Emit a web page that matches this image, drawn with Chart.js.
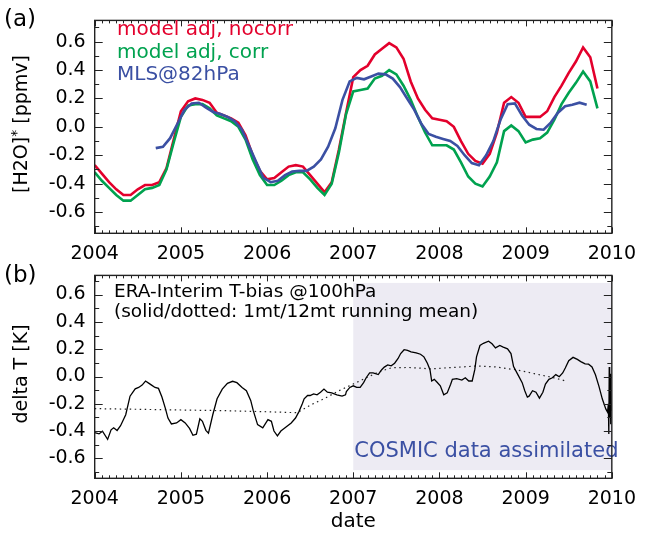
<!DOCTYPE html>
<html>
<head>
<meta charset="utf-8">
<script src="https://cdn.jsdelivr.net/npm/chart.js@4/dist/chart.umd.min.js"></script>
<style>
  body { margin: 0; background: #fff; }
  #wrap { position: relative; width: 645px; height: 535px; }
  canvas { position: absolute; left: 0; }
  #panelA { top: 0; }
  #panelB { top: 255px; }
</style>
</head>
<body>
<div id="wrap">
  <canvas id="panelA" width="645" height="268"></canvas>
  <canvas id="panelB" width="645" height="280"></canvas>
</div>
<script>
const FONT = '"DejaVu Sans", sans-serif'
const RED = '#E3002C'
const GREEN = '#00A24F'
const BLUE = '#3B50A3'

// (a) monthly values, first month is January 2004
const nocorr = [
  -0.27, -0.33, -0.39, -0.44, -0.48, -0.48, -0.44, -0.41, -0.41, -0.39,
  -0.29, -0.09, 0.11, 0.18, 0.20, 0.19, 0.17, 0.10, 0.08, 0.06,
  0.03, -0.06, -0.20, -0.31, -0.37, -0.36, -0.32, -0.28, -0.27, -0.28,
  -0.34, -0.40, -0.46, -0.39, -0.16, 0.10, 0.35, 0.40, 0.43, 0.51,
  0.55, 0.59, 0.56, 0.48, 0.32, 0.20, 0.12, 0.06, 0.05, 0.04,
  0.00, -0.10, -0.19, -0.24, -0.26, -0.19, -0.04, 0.17, 0.21, 0.17,
  0.07, 0.07, 0.07, 0.11, 0.21, 0.29, 0.38, 0.46, 0.56, 0.49,
  0.27
]
const corr = [
  -0.32, -0.38, -0.43, -0.48, -0.52, -0.52, -0.48, -0.44, -0.43, -0.41,
  -0.30, -0.11, 0.07, 0.15, 0.16, 0.16, 0.13, 0.08, 0.06, 0.04,
  0.00, -0.09, -0.23, -0.34, -0.41, -0.41, -0.38, -0.34, -0.32, -0.32,
  -0.37, -0.43, -0.48, -0.40, -0.18, 0.09, 0.25, 0.26, 0.27, 0.34,
  0.36, 0.40, 0.37, 0.29, 0.19, 0.07, -0.04, -0.13, -0.13, -0.13,
  -0.16, -0.25, -0.35, -0.40, -0.42, -0.35, -0.25, -0.03, 0.01, -0.03,
  -0.11, -0.09, -0.08, -0.04, 0.05, 0.16, 0.24, 0.31, 0.39, 0.32,
  0.13
]
// MLS@82hPa, mid-month values from September 2004
const mlsFirstMonth = 8.5
const mls = [
  -0.15, -0.14, -0.08, 0.02, 0.12, 0.165, 0.17, 0.135, 0.105, 0.09,
  0.07, 0.04, -0.02, -0.135, -0.25, -0.36, -0.39, -0.38, -0.34, -0.315,
  -0.31, -0.31, -0.28, -0.23, -0.14, -0.01, 0.19, 0.32, 0.345, 0.335,
  0.355, 0.375, 0.37, 0.34, 0.28, 0.2, 0.12, 0.02, -0.05, -0.07,
  -0.085, -0.1, -0.135, -0.2, -0.255, -0.27, -0.2, -0.1, 0.05, 0.16,
  0.165, 0.08, 0.015, -0.015, -0.02, 0.03, 0.1, 0.145, 0.155, 0.17,
  0.155
]

// (b) ERA-Interim T-bias at 100hPa, 1 month running mean
const biasYears = [
  2004.00, 2004.05, 2004.09, 2004.15, 2004.19, 2004.22, 2004.26, 2004.30, 2004.36, 2004.41,
  2004.47, 2004.51, 2004.55, 2004.59, 2004.63, 2004.66, 2004.70, 2004.74, 2004.78, 2004.82,
  2004.85, 2004.89, 2004.95, 2005.00, 2005.05, 2005.10, 2005.14, 2005.18, 2005.22, 2005.25,
  2005.29, 2005.32, 2005.37, 2005.42, 2005.48, 2005.54, 2005.60, 2005.65, 2005.71, 2005.76,
  2005.81, 2005.84, 2005.89, 2005.95, 2006.01, 2006.05, 2006.08, 2006.12, 2006.16, 2006.22,
  2006.28, 2006.33, 2006.37, 2006.41, 2006.43, 2006.47, 2006.50, 2006.54, 2006.58, 2006.62,
  2006.66, 2006.70, 2006.75, 2006.81, 2006.87, 2006.91, 2006.92, 2006.96, 2007.00, 2007.04,
  2007.08, 2007.12, 2007.15, 2007.19, 2007.23, 2007.29, 2007.33, 2007.36, 2007.40, 2007.44,
  2007.48, 2007.52, 2007.55, 2007.59, 2007.63, 2007.67, 2007.73, 2007.78, 2007.82, 2007.86,
  2007.89, 2007.91, 2007.94, 2007.97, 2008.01, 2008.05, 2008.09, 2008.13, 2008.15, 2008.20,
  2008.26, 2008.30, 2008.34, 2008.38, 2008.41, 2008.43, 2008.47, 2008.51, 2008.57, 2008.61,
  2008.65, 2008.70, 2008.74, 2008.79, 2008.83, 2008.86, 2008.91, 2008.96, 2008.99, 2009.02,
  2009.04, 2009.08, 2009.12, 2009.16, 2009.20, 2009.23, 2009.27, 2009.31, 2009.35, 2009.39,
  2009.43, 2009.46, 2009.50, 2009.55, 2009.60, 2009.64, 2009.69, 2009.73, 2009.77, 2009.81,
  2009.85, 2009.89, 2009.93, 2009.95, 2009.96, 2009.965, 2009.97, 2009.975, 2009.98, 2009.985,
  2009.99, 2009.995
]
const biasValues = [
  -0.41, -0.42, -0.40, -0.46, -0.39, -0.375, -0.395, -0.36, -0.28, -0.144,
  -0.09, -0.08, -0.063, -0.033, -0.05, -0.063, -0.08, -0.087, -0.15, -0.233,
  -0.304, -0.347, -0.34, -0.316, -0.34, -0.38, -0.43, -0.422, -0.31, -0.328,
  -0.394, -0.415, -0.28, -0.163, -0.092, -0.05, -0.035, -0.045, -0.08, -0.104,
  -0.175, -0.25, -0.352, -0.375, -0.316, -0.328, -0.399, -0.434, -0.399, -0.37,
  -0.34, -0.304, -0.257, -0.198, -0.163, -0.139, -0.139, -0.127, -0.134, -0.115,
  -0.092, -0.115, -0.12, -0.134, -0.144, -0.134, -0.111, -0.08, -0.068, -0.08,
  -0.08, -0.045, -0.009, 0.026, 0.026, 0.014, 0.05, 0.069, 0.085, 0.078,
  0.097, 0.132, 0.168, 0.196, 0.191, 0.18, 0.173, 0.163, 0.144, 0.097,
  0.05, -0.033, -0.021, -0.04, -0.068, -0.134, -0.12, -0.056, -0.021, -0.016,
  -0.026, -0.009, -0.033, -0.033, 0.05, 0.144, 0.227, 0.243, 0.258, 0.239,
  0.21, 0.227, 0.215, 0.203, 0.168, 0.073, 0.014, -0.045, -0.104, -0.151,
  -0.144, -0.104, -0.115, -0.158, -0.115, -0.056, -0.021, -0.009, 0.014, -0.002,
  0.026, 0.062, 0.116, 0.14, 0.125, 0.109, 0.092, 0.09, 0.07, 0.013,
  -0.07, -0.165, -0.237, -0.26, -0.2, -0.42, 0.07, -0.3, 0.02, -0.35,
  -0.1, -0.25
]
// 12 month running mean
const meanYears = [
  2004.00, 2004.50, 2005.00, 2005.50, 2006.00, 2006.35, 2006.50, 2006.67, 2006.83, 2007.00,
  2007.15, 2007.30, 2007.45, 2007.65, 2007.90, 2008.20, 2008.45, 2008.65, 2008.90, 2009.10,
  2009.30, 2009.48
]
const meanValues = [
  -0.235, -0.24, -0.245, -0.25, -0.258, -0.265, -0.21, -0.16, -0.105, -0.055,
  -0.01, 0.035, 0.065, 0.066, 0.056, 0.068, 0.077, 0.07, 0.048, 0.021,
  -0.005, -0.035
]

const yearTicks = [2004, 2005, 2006, 2007, 2008, 2009, 2010]
const valueTicks = [-0.6, -0.4, -0.2, 0, 0.2, 0.4, 0.6]

const monthly = (values, first) => values.map((v, i) => ({ x: 2004 + (first + i) / 12, y: v }))
const paired = (xs, ys) => xs.map((x, i) => ({ x: x, y: ys[i] }))

function scaleOptions (yMin, yMax, xHeight) {
  const tickFont = { family: FONT, size: 19 }
  return {
    x: {
      type: 'linear',
      min: 2004,
      max: 2010,
      afterBuildTicks: s => { s.ticks = yearTicks.map(v => ({ value: v })) },
      afterFit: s => { s.height = xHeight },
      grid: { display: false, drawTicks: false },
      border: { display: false },
      ticks: { font: tickFont, color: '#000', padding: 9, maxRotation: 0, autoSkip: false, callback: v => String(v) }
    },
    y: {
      type: 'linear',
      min: yMin,
      max: yMax,
      afterBuildTicks: s => { s.ticks = valueTicks.map(v => ({ value: v })) },
      afterFit: s => { s.width = 94.7 },
      grid: { display: false, drawTicks: false },
      border: { display: false },
      ticks: { font: tickFont, color: '#000', padding: 9, callback: v => v.toFixed(1) }
    }
  }
}

// box around the plot with inward ticks on all four sides
const frame = {
  id: 'frame',
  afterDatasetsDraw (chart) {
    const { ctx, chartArea: a, scales: { x, y } } = chart
    ctx.save()
    ctx.strokeStyle = '#222'
    ctx.lineWidth = 1
    ctx.beginPath()
    for (let i = 0; i <= 72; i++) {
      const px = Math.round(x.getPixelForValue(2004 + i / 12)) + 0.5
      const len = i % 12 === 0 ? 6 : 3
      ctx.moveTo(px, a.bottom)
      ctx.lineTo(px, a.bottom - len)
      ctx.moveTo(px, a.top)
      ctx.lineTo(px, a.top + len)
    }
    for (let i = -7; i <= 7; i++) {
      const py = Math.round(y.getPixelForValue(i / 10)) + 0.5
      const len = i % 2 === 0 ? 8 : 4.5
      ctx.moveTo(a.left, py)
      ctx.lineTo(a.left + len, py)
      ctx.moveTo(a.right, py)
      ctx.lineTo(a.right - len, py)
    }
    ctx.stroke()
    ctx.lineWidth = 1.4
    ctx.strokeRect(a.left, a.top, a.right - a.left, a.bottom - a.top)
    ctx.restore()
  }
}

function verticalText (ctx, parts, cx, cy) {
  ctx.save()
  ctx.translate(cx, cy)
  ctx.rotate(-Math.PI / 2)
  ctx.textBaseline = 'middle'
  ctx.textAlign = 'left'
  let total = 0
  parts.forEach(p => { ctx.font = p.font; total += ctx.measureText(p.text).width })
  let x = -total / 2
  parts.forEach(p => {
    ctx.font = p.font
    ctx.fillText(p.text, x, p.dy || 0)
    x += ctx.measureText(p.text).width
  })
  ctx.restore()
}

const textA = {
  id: 'textA',
  afterDraw (chart) {
    const ctx = chart.ctx
    ctx.save()
    ctx.textAlign = 'left'
    ctx.textBaseline = 'alphabetic'
    ctx.font = '20px ' + FONT
    ctx.fillStyle = RED
    ctx.fillText('model adj, nocorr', 117, 35)
    ctx.fillStyle = GREEN
    ctx.fillText('model adj, corr', 117, 57.5)
    ctx.fillStyle = BLUE
    ctx.fillText('MLS@82hPa', 117, 80)
    ctx.fillStyle = '#000'
    ctx.font = '23px ' + FONT
    ctx.fillText('(a)', 4, 26)
    verticalText(ctx, [
      { text: '[H2O]', font: '19px ' + FONT },
      { text: '*', font: '14px ' + FONT, dy: -5 },
      { text: ' [ppmv]', font: '19px ' + FONT }
    ], 22, 124)
    ctx.restore()
  }
}

const cosmic = {
  id: 'cosmic',
  beforeDatasetsDraw (chart) {
    const { ctx, scales: { x, y } } = chart
    const left = x.getPixelForValue(2007)
    const right = x.getPixelForValue(2010)
    const top = y.getPixelForValue(0.685)
    const bottom = y.getPixelForValue(-0.685)
    ctx.save()
    ctx.fillStyle = '#EDEBF3'
    ctx.fillRect(left, top, right - left, bottom - top)
    ctx.fillStyle = BLUE
    ctx.font = '21px ' + FONT
    ctx.textAlign = 'left'
    ctx.fillText('COSMIC data assimilated', left + 1, 202.3)
    ctx.restore()
  }
}

const textB = {
  id: 'textB',
  afterDraw (chart) {
    const ctx = chart.ctx
    ctx.save()
    ctx.fillStyle = '#000'
    ctx.textAlign = 'left'
    ctx.font = '18.5px ' + FONT
    ctx.fillText('ERA-Interim T-bias @100hPa', 114, 41.7)
    ctx.fillText('(solid/dotted: 1mt/12mt running mean)', 114, 62)
    ctx.font = '23px ' + FONT
    ctx.fillText('(b)', 4, 27)
    ctx.font = '20px ' + FONT
    ctx.textAlign = 'center'
    ctx.fillText('date', chart.scales.x.getPixelForValue(2007), 272)
    verticalText(ctx, [{ text: 'delta T [K]', font: '19px ' + FONT }], 22, 119)
    ctx.restore()
  }
}

const common = {
  responsive: false,
  animation: false,
  events: [],
  plugins: { legend: { display: false }, tooltip: { enabled: false } },
  elements: { point: { radius: 0 }, line: { tension: 0 } }
}

new Chart(document.getElementById('panelA'), {
  type: 'line',
  data: {
    datasets: [
      { label: 'model adj, nocorr', data: monthly(nocorr, 0), borderColor: RED, borderWidth: 2.6, order: 2 },
      { label: 'model adj, corr', data: monthly(corr, 0), borderColor: GREEN, borderWidth: 2.6, order: 1 },
      { label: 'MLS@82hPa', data: monthly(mls, mlsFirstMonth), borderColor: BLUE, borderWidth: 2.6, order: 0 }
    ]
  },
  options: Object.assign({}, common, {
    layout: { padding: { top: 14, right: 26.3, left: 0, bottom: 0 } },
    scales: scaleOptions(-0.75, 0.75, 268 - 233.3)
  }),
  plugins: [frame, textA]
})

new Chart(document.getElementById('panelB'), {
  type: 'line',
  data: {
    datasets: [
      { label: '1mt', data: paired(biasYears, biasValues), borderColor: '#000', borderWidth: 1.3, order: 0 },
      { label: '12mt', data: paired(meanYears, meanValues), borderColor: '#222', borderWidth: 1.2, borderDash: [1.5, 3.5], order: 1 }
    ]
  },
  options: Object.assign({}, common, {
    layout: { padding: { top: 15, right: 26.3, left: 0, bottom: 0 } },
    scales: scaleOptions(-0.745, 0.74, 280 - 223.3)
  }),
  plugins: [cosmic, frame, textB]
})
</script>
</body>
</html>
